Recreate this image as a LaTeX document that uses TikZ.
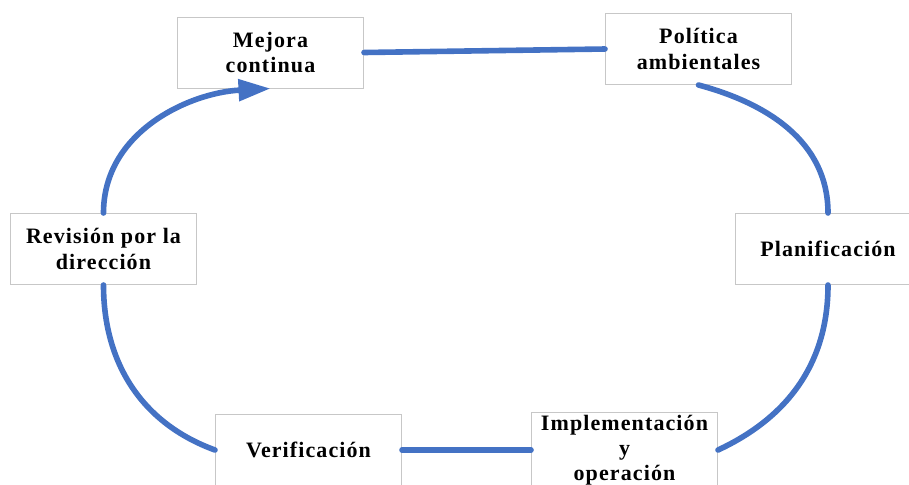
\documentclass[tikz,border=0pt]{standalone}
\usepackage{fontspec}
\setmainfont{Liberation Serif}[LetterSpace=5]
\usetikzlibrary{arrows.meta}
\definecolor{cycleblue}{HTML}{4472C4}
\tikzset{
  stagebox/.style={draw=black!22,line width=0.5pt,fill=white,minimum width=93pt,minimum height=35.5pt,
    inner sep=1pt,align=center,font=\fontsize{11}{12.6}\selectfont\bfseries},
  cycleline/.style={cycleblue,line width=2.8pt,line cap=round}
}
\begin{document}
\begin{tikzpicture}[x=0.5pt,y=-0.5pt]
\useasboundingbox (0,0) rectangle (909,484);
\node (mejora) [stagebox] at (270.5,52.5) {Mejora\\continua};
\node (politica) [stagebox] at (698.5,49) {Política\\ambientales};
\node (revision) [stagebox] at (103.5,249) {Revisión por la\\dirección};
\node (planif) [stagebox] at (828,249) {Planificación};
\node (verif) [stagebox] at (308.5,450) {Verificación};
\node (implem) [stagebox] at (624.5,450) {Implementación\\y\\operación};
\draw [cycleline] (mejora.east) -- (politica.west);
\draw [cycleline] (politica.south) to[out=-15,in=90] (planif.north);
\draw [cycleline] (planif.south) to[out=-90,in=25] (implem.east);
\draw [cycleline] (implem.west) -- (verif.east);
\draw [cycleline] (verif.west) to[out=160,in=-90] (revision.south);
\draw [cycleline,-{Triangle[length=16pt,width=10.5pt]}] (revision.north) to[out=90,in=183] (mejora.south);
\end{tikzpicture}
\end{document}
